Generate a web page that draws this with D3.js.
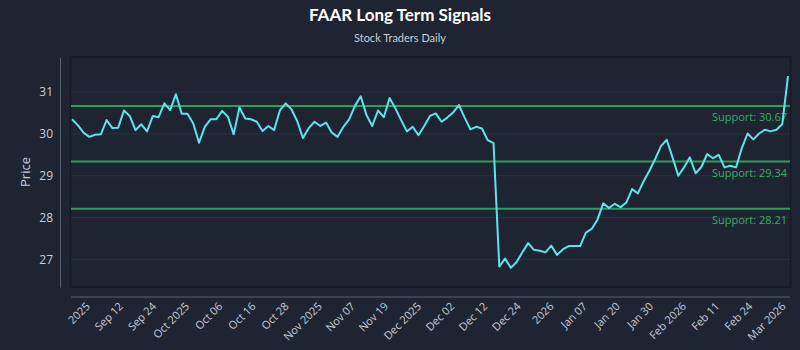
<!DOCTYPE html>
<html>
<head>
<meta charset="utf-8">
<script src="https://cdn.jsdelivr.net/npm/d3@7"></script>
<style>
  body { margin: 0; background: #1f2433; }
  svg { display: block; font-family: "Open Sans", sans-serif; }
</style>
</head>
<body>
<div id="chart"></div>
<script>
// daily closes, one per trading session
const prices = [
  30.35, 30.21, 30.03, 29.93, 29.98, 29.99, 30.33, 30.14, 30.15, 30.56,
  30.43, 30.09, 30.23, 30.06, 30.43, 30.40, 30.73, 30.57, 30.95, 30.48,
  30.48, 30.25, 29.79, 30.17, 30.35, 30.35, 30.55, 30.41, 29.99, 30.63,
  30.37, 30.35, 30.29, 30.07, 30.19, 30.09, 30.56, 30.73, 30.59, 30.31,
  29.90, 30.14, 30.29, 30.19, 30.27, 30.03, 29.93, 30.17, 30.35, 30.67,
  30.90, 30.45, 30.19, 30.56, 30.40, 30.86, 30.61, 30.33, 30.06, 30.17,
  29.97, 30.19, 30.43, 30.49, 30.29, 30.39, 30.51, 30.69, 30.39, 30.11,
  30.17, 30.13, 29.85, 29.78, 26.83, 27.02, 26.80, 26.94, 27.17, 27.39,
  27.23, 27.21, 27.17, 27.33, 27.11, 27.24, 27.32, 27.32, 27.32, 27.64,
  27.73, 27.95, 28.34, 28.23, 28.33, 28.25, 28.36, 28.68, 28.58, 28.87,
  29.12, 29.40, 29.71, 29.86, 29.44, 29.00, 29.20, 29.44, 29.06, 29.21,
  29.52, 29.42, 29.50, 29.20, 29.24, 29.20, 29.66, 30.01, 29.87, 30.01,
  30.10, 30.06, 30.10, 30.23, 31.38
];
const supportLevels = [30.67, 29.34, 28.21];
const tickLabels = [
  "2025", "Sep 12", "Sep 24", "Oct 2025", "Oct 06", "Oct 16", "Oct 28",
  "Nov 2025", "Nov 07", "Nov 19", "Dec 2025", "Dec 02", "Dec 12", "Dec 24",
  "2026", "Jan 07", "Jan 20", "Jan 30", "Feb 2026", "Feb 11", "Feb 24", "Mar 2026"
];

const width = 800, height = 350;
const plot = {left: 71, right: 790, top: 57, bottom: 287};

const svg = d3.select("#chart").append("svg")
  .attr("width", width)
  .attr("height", height);

svg.append("rect").attr("width", width).attr("height", height).attr("fill", "#1f2433");

// title
svg.append("text")
  .attr("x", width / 2).attr("y", 21)
  .attr("text-anchor", "middle")
  .attr("fill", "#ffffff")
  .style("font-family", "Lato, sans-serif")
  .style("font-size", "17px").style("font-weight", "bold")
  .text("FAAR Long Term Signals");
svg.append("text")
  .attr("x", width / 2).attr("y", 42)
  .attr("text-anchor", "middle")
  .attr("fill", "#c9cdd6")
  .style("font-family", "Lato, sans-serif")
  .style("font-size", "11px")
  .text("Stock Traders Daily");

// scales
const yMin = d3.min(prices), yMax = d3.max(prices);
const pad = (yMax - yMin) * 0.1;
const yScale = d3.scaleLinear()
  .domain([yMin - pad, yMax + pad])
  .range([plot.bottom, plot.top]);

const xScale = d3.scaleLinear()
  .domain([0, prices.length - 1])
  .range([72, 788]);

// gridlines
const yTicks = yScale.ticks(5);
svg.append("g").selectAll("line").data(yTicks).join("line")
  .attr("x1", plot.left).attr("x2", plot.right)
  .attr("y1", d => yScale(d)).attr("y2", d => yScale(d))
  .attr("stroke", "#2b3244").attr("stroke-width", 1);

// plot frame
svg.append("rect")
  .attr("x", plot.left - 0.5).attr("y", plot.top)
  .attr("width", plot.right - plot.left + 1).attr("height", plot.bottom - plot.top)
  .attr("fill", "none").attr("stroke", "#151a24").attr("stroke-width", 1.5);

// support lines
const sup = svg.append("g");
sup.selectAll("line").data(supportLevels).join("line")
  .attr("x1", plot.left).attr("x2", plot.right)
  .attr("y1", d => yScale(d)).attr("y2", d => yScale(d))
  .attr("stroke", "#2c9d5a").attr("stroke-width", 2);
sup.selectAll("text").data(supportLevels).join("text")
  .attr("x", plot.right - 3).attr("y", d => yScale(d) + 15)
  .attr("text-anchor", "end")
  .attr("fill", "#35b062")
  .style("font-size", "11px")
  .text(d => `Support: ${d.toFixed(2)}`);

// price line
const line = d3.line()
  .x((d, i) => xScale(i))
  .y(d => yScale(d));
svg.append("path")
  .datum(prices)
  .attr("fill", "none")
  .attr("stroke", "#5fe3ea")
  .attr("stroke-width", 2)
  .attr("stroke-linejoin", "round")
  .attr("d", line);

// y axis
const yAxisG = svg.append("g")
  .attr("transform", `translate(60,0)`)
  .call(d3.axisLeft(yScale).tickValues(yTicks).tickFormat(d3.format("d"))
    .tickSize(0).tickPadding(7));
yAxisG.select(".domain").attr("stroke", "#59606e");
yAxisG.selectAll("text").attr("fill", "#c9cdd6").style("font-size", "12px")
  .style("font-family", "Open Sans, sans-serif");

svg.append("text")
  .attr("transform", `translate(30,172) rotate(-90)`)
  .attr("text-anchor", "middle")
  .attr("fill", "#c9cdd6")
  .style("font-size", "13px")
  .text("Price");

// x axis: labels evenly spread along the trading-day index
const tickStart = 2.8, tickEnd = 123.3;
const tickStep = (tickEnd - tickStart) / (tickLabels.length - 1);
const tickPos = tickLabels.map((d, i) => tickStart + i * tickStep);
const xAxisG = svg.append("g")
  .attr("transform", `translate(0,297)`)
  .call(d3.axisBottom(xScale).tickValues(tickPos)
    .tickFormat((d, i) => tickLabels[i]).tickSize(0));
xAxisG.select(".domain").attr("d", `M${plot.left},0H${plot.right}`).attr("stroke", "#59606e");
xAxisG.selectAll("text")
  .attr("x", 0).attr("y", 0).attr("dy", null)
  .attr("transform", "translate(2,10) rotate(-45)")
  .style("text-anchor", "end")
  .style("font-size", "11px")
  .style("font-family", "Open Sans, sans-serif")
  .attr("fill", "#c9cdd6");
</script>
</body>
</html>
